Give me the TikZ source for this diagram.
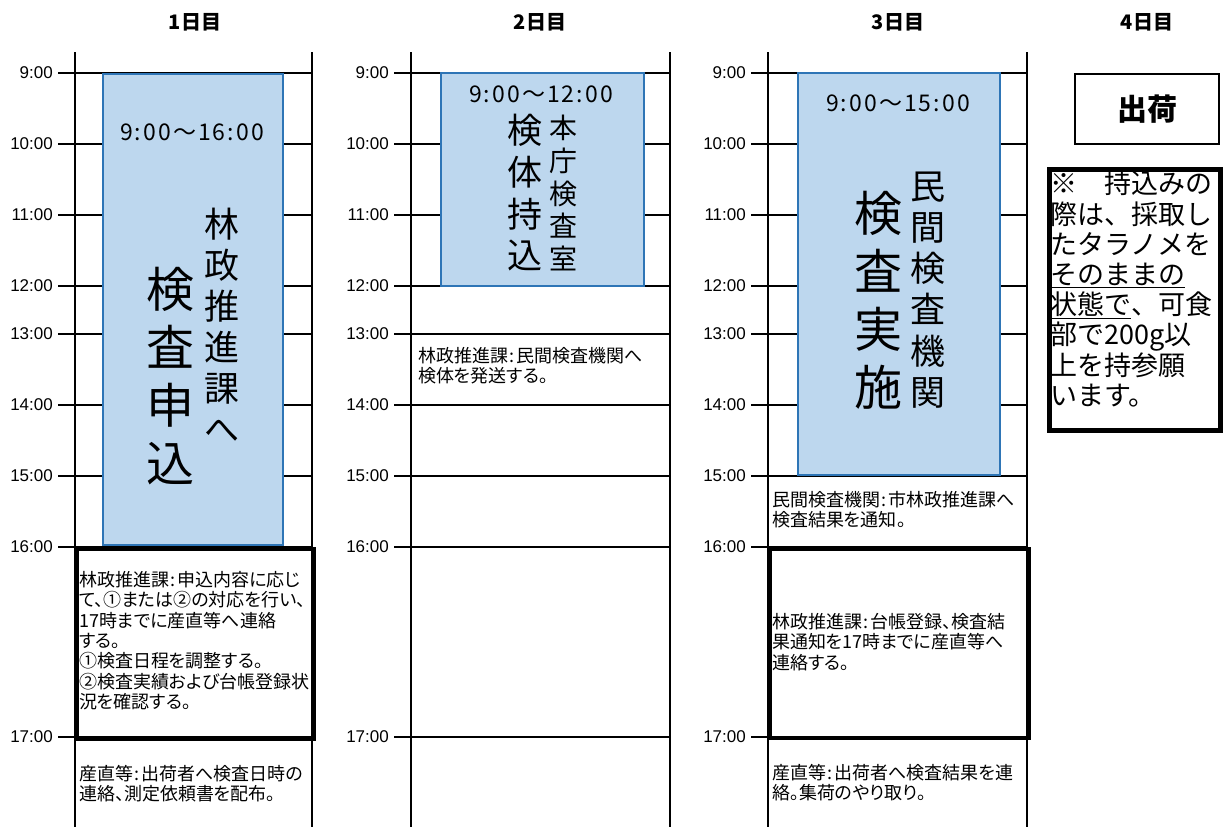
\documentclass[tikz,border=0pt]{standalone}
\usepackage{fontspec}
\setmainfont{Noto Sans CJK JP}
\newfontfamily\clockfont{Liberation Sans}
\newfontfamily\memofont[RawFeature=+palt]{Noto Sans CJK JP}
\newfontfamily\rangefont[LetterSpace=9]{Noto Sans CJK JP}
\usepackage{tikz}
\definecolor{slotblue}{RGB}{189,215,238}
\definecolor{slotedge}{RGB}{46,117,182}
\newcommand{\sep}{\kern1.5pt:\kern1.5pt}
\tikzstyle{gridline} = [line width=1.6pt, color=black]
\tikzstyle{slot} = [rectangle, draw=slotedge, fill=slotblue, line width=1.6pt, anchor=north west, inner sep=0pt]
\tikzstyle{duty} = [rectangle, draw=black, line width=3.5pt, anchor=north west, inner sep=0pt]
\tikzstyle{memo} = [anchor=north west, align=left, inner sep=0pt, font=\memofont\fontsize{18}{20.4}\selectfont]
\tikzstyle{timelabel} = [anchor=east, inner sep=0pt, font=\clockfont\fontsize{17}{17}\selectfont]
\tikzstyle{dayhead} = [inner sep=0pt, font=\fontsize{20}{20}\selectfont\bfseries]
\tikzstyle{rangetext} = [inner sep=0pt, font=\rangefont\fontsize{23}{23}\selectfont]
\tikzstyle{bigcol} = [align=center, inner sep=0pt]
\tikzstyle{smallcol} = [align=center, inner sep=0pt]
\tikzstyle{shipbox} = [rectangle, draw=black, line width=1.5pt, font=\fontsize{30}{30}\selectfont\bfseries]
\tikzstyle{notebox} = [rectangle, draw=black, line width=4.5pt, anchor=north west, inner sep=0pt]
\tikzstyle{notetext} = [anchor=north west, align=left, inner sep=0pt, font=\fontsize{27}{30.2}\selectfont]

\begin{document}
\begin{tikzpicture}[x=1pt, y=-1pt]
\useasboundingbox (0,0) rectangle (1223,827);

% Day headers
\node (day1) [dayhead] at (195,22) {1日目};
\node (day2) [dayhead] at (540,22) {2日目};
\node (day3) [dayhead] at (898,22) {3日目};
\node (day4) [dayhead] at (1147,22) {4日目};

% Time grid
\foreach \d/\xl/\xr in {1/75/312, 2/411/670, 3/768/1027} {
  \draw[gridline] (\xl,52) -- (\xl,827);
  \draw[gridline] (\xr,52) -- (\xr,827);
  \foreach \h/\y in {9/73, 10/144, 11/215, 12/286, 13/334, 14/405, 15/476, 16/547, 17/737} {
    \draw[gridline] (\xl-17,\y) -- (\xr,\y);
    \node (t\d-\h) [timelabel] at (\xl-22,\y) {\h:00};
  }
}

% Blue time slots
\node (slot1) [slot, minimum width=180pt, minimum height=471pt] at (102,73) {};
\node (slot2) [slot, minimum width=203pt, minimum height=213pt] at (440,72) {};
\node (slot3) [slot, minimum width=202pt, minimum height=402pt] at (797,72) {};

\node (range1) [rangetext] at (192,132) {9:00～16:00};
\node (range2) [rangetext] at (541,94) {9:00～12:00};
\node (range3) [rangetext] at (898,103) {9:00～15:00};

% Day 1
\node (what1) [bigcol, font=\fontsize{48}{58}\selectfont] at (170,376) {検\\査\\申\\込};
\node (who1) [smallcol, font=\fontsize{35}{41}\selectfont] at (222,325) {林\\政\\推\\進\\課\\へ};

% Day 2
\node (what2) [bigcol, font=\fontsize{35}{41.7}\selectfont] at (525,193) {検\\体\\持\\込};
\node (who2) [smallcol, font=\fontsize{28}{32.7}\selectfont] at (563,193) {本\\庁\\検\\査\\室};

% Day 3
\node (what3) [bigcol, font=\fontsize{48}{58}\selectfont] at (878,300) {検\\査\\実\\施};
\node (who3) [smallcol, font=\fontsize{35}{41.2}\selectfont] at (928,290) {民\\間\\検\\査\\機\\関};

% Thick boxes 16:00-17:00
\node (duty1) [duty, minimum width=237pt, minimum height=190pt] at (75,547) {};
\node (duty3) [duty, minimum width=259pt, minimum height=189pt] at (768,547) {};

% Notes
\node (plan1) [memo] at (79,571) {林政推進課\sep 申込内容に応じ\\て、①または②の対応を行い、\\17時までに産直等へ連絡\\する。\\①検査日程を調整する。\\②検査実績および台帳登録状\\況を確認する。};
\node (ship1) [memo] at (79,765) {産直等\sep 出荷者へ検査日時の\\連絡、測定依頼書を配布。};
\node (send2) [memo] at (418,347) {林政推進課\sep 民間検査機関へ\\検体を発送する。};
\node (notify3) [memo] at (772,491) {民間検査機関\sep 市林政推進課へ\\検査結果を通知。};
\node (ledger3) [memo] at (772,613) {林政推進課\sep 台帳登録、検査結\\果通知を17時までに産直等へ\\連絡する。};
\node (ship3) [memo] at (772,764) {産直等\sep 出荷者へ検査結果を連\\絡。集荷のやり取り。};

% Day 4
\node (ship) [shipbox, minimum width=144pt, minimum height=70pt] at (1147,109) {出荷};
\node (note) [notebox, minimum width=171pt, minimum height=261pt] at (1047,167) {};
\node (notetxt) [notetext] at (1050,171) {※　持込みの\\際は、採取し\\たタラノメを\\\underline{そのままの}\\\underline{状態で}、可食\\部で200g以\\上を持参願\\います。};
\end{tikzpicture}
\end{document}
